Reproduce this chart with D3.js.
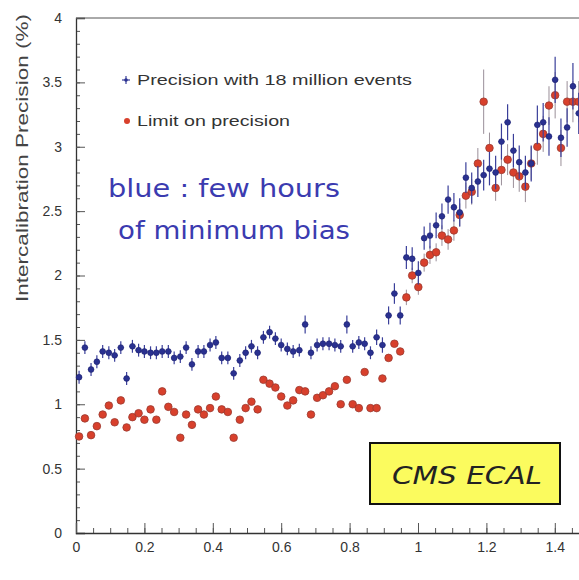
<!DOCTYPE html>
<html><head><meta charset="utf-8">
<script src="https://cdn.jsdelivr.net/npm/d3@7"></script>
<style>body{margin:0;background:#fff;}svg{display:block;}</style>
</head><body>
<script>
const eta = [0.009,0.026,0.044,0.061,0.078,0.096,0.113,0.131,0.148,0.165,0.183,0.200,0.218,0.235,0.252,0.270,0.287,0.305,0.322,0.339,
0.357,0.374,0.392,0.409,0.426,0.444,0.461,0.479,0.496,0.513,0.531,0.548,0.566,0.583,0.600,0.618,0.635,0.653,0.670,0.687,
0.705,0.722,0.740,0.757,0.774,0.792,0.809,0.827,0.844,0.861,0.879,0.896,0.914,0.931,0.948,0.966,0.983,1.001,1.018,1.035,
1.053,1.070,1.088,1.105,1.122,1.140,1.157,1.175,1.192,1.209,1.227,1.244,1.262,1.279,1.296,1.314,1.331,1.349,1.366,1.383,
1.401,1.418,1.436,1.453,1.470];
const blueVals = [1.21,1.44,1.27,1.33,1.41,1.40,1.38,1.44,1.20,1.45,1.42,1.41,1.40,1.40,1.41,1.41,1.36,1.37,1.44,1.31,
1.41,1.41,1.46,1.48,1.36,1.36,1.24,1.34,1.40,1.45,1.40,1.52,1.56,1.51,1.46,1.43,1.41,1.42,1.62,1.40,
1.46,1.47,1.47,1.46,1.45,1.62,1.45,1.48,1.47,1.40,1.52,1.46,1.69,1.86,1.69,2.14,2.13,2.02,2.29,2.31,
2.39,2.46,2.59,2.53,2.49,2.76,2.68,2.73,2.78,2.83,2.80,3.04,3.19,2.97,2.88,2.80,2.87,3.17,3.19,3.08,
3.52,3.07,3.15,3.47,3.26];
const blueErr = [0.05,0.05,0.05,0.05,0.05,0.05,0.05,0.05,0.05,0.05,0.05,0.05,0.05,0.05,0.05,0.05,0.05,0.05,0.05,0.05,
0.05,0.05,0.05,0.05,0.05,0.05,0.05,0.05,0.05,0.05,0.05,0.05,0.05,0.05,0.05,0.05,0.05,0.05,0.07,0.05,
0.05,0.05,0.05,0.05,0.05,0.07,0.05,0.05,0.05,0.05,0.06,0.06,0.07,0.08,0.07,0.09,0.09,0.09,0.09,0.10,
0.10,0.10,0.11,0.11,0.11,0.12,0.12,0.12,0.12,0.13,0.13,0.14,0.14,0.13,0.13,0.13,0.14,0.15,0.15,0.15,
0.18,0.15,0.15,0.18,0.16];
const redVals = [0.75,0.89,0.76,0.83,0.92,0.99,0.86,1.03,0.82,0.90,0.93,0.88,0.96,0.88,1.10,0.98,0.94,0.74,0.92,0.84,
0.96,0.92,0.97,1.06,0.96,0.94,0.74,0.88,0.97,1.02,0.96,1.19,1.16,1.13,1.06,0.99,1.03,1.11,1.10,0.92,
1.05,1.07,1.10,1.14,1.00,1.19,1.00,0.97,1.25,0.97,0.97,1.20,1.36,1.47,1.41,1.83,2.00,1.91,2.10,2.16,
2.18,2.31,2.28,2.35,2.47,2.62,2.65,2.87,3.35,2.99,2.68,2.82,2.90,2.80,2.77,2.69,2.87,3.00,3.10,3.32,
3.40,2.99,3.35,3.35,3.35];
const redErr = [0,0,0,0,0,0,0,0,0,0,0,0,0,0,0,0,0,0,0,0,
0,0,0,0,0,0,0,0,0,0,0,0,0,0,0,0,0,0,0,0,
0,0,0,0,0,0,0,0,0,0,0,0,0,0,0,0.06,0.06,0.06,0.07,0.07,
0.07,0.08,0.08,0.08,0.09,0.10,0.10,0.12,0.25,0.12,0.10,0.12,0.12,0.12,0.12,0.12,0.13,0.14,0.14,0.15,
0.18,0.14,0.16,0.16,0.16];
const yTickVals = [0,0.5,1,1.5,2,2.5,3,3.5,4];
const yTickLabels = ["0","0.5","1","1.5","2","2.5","3","3.5","4"];
const xTickVals = [0,0.2,0.4,0.6,0.8,1,1.2,1.4];
const xTickLabels = ["0","0.2","0.4","0.6","0.8","1","1.2","1.4"];
const legendLabels = ["Precision with 18 million events","Limit on precision"];
const noteLines = ["blue : few hours","of minimum bias"];
const boxLabel = "CMS ECAL";
const yTitle = "Intercalibration Precision (%)";

const W = 579, H = 580;
const svg = d3.select("body").append("svg").attr("width", W).attr("height", H);
const x = d3.scaleLinear().domain([0, 1.5]).range([76, 589]);
const y = d3.scaleLinear().domain([0, 4]).range([533, 18]);
const font = "'Liberation Sans', Arial, sans-serif";

// frame top line
svg.append("line").attr("x1", x(0)).attr("x2", W + 20).attr("y1", y(4)).attr("y2", y(4))
  .attr("stroke", "#555").attr("stroke-width", 1);

// y axis minor
const yMinor = d3.range(0, 41).map(d => d / 10);
svg.append("g").attr("transform", `translate(${x(0)},0)`)
  .call(d3.axisLeft(y).tickValues(yMinor).tickSize(-4).tickFormat(""))
  .call(g => g.select(".domain").remove())
  .selectAll("line").attr("stroke", "#555");
const yAx = svg.append("g").attr("transform", `translate(${x(0)},0)`)
  .call(d3.axisLeft(y).tickValues(yTickVals).tickSize(-9).tickPadding(14)
    .tickFormat((d, i) => yTickLabels[i]));
yAx.select(".domain").attr("stroke", "#333").attr("stroke-width", 1.3);
yAx.selectAll("line").attr("stroke", "#555");
yAx.selectAll("text").attr("font-family", font).attr("font-size", 14).attr("fill", "#333");

// x axis minor
const xMinor = d3.range(0, 30).map(d => d * 0.05);
svg.append("g").attr("transform", `translate(0,${y(0)})`)
  .call(d3.axisBottom(x).tickValues(xMinor).tickSize(-5).tickFormat(""))
  .call(g => g.select(".domain").remove())
  .selectAll("line").attr("stroke", "#555");
const xAx = svg.append("g").attr("transform", `translate(0,${y(0)})`)
  .call(d3.axisBottom(x).tickValues(xTickVals).tickSize(-10).tickPadding(6)
    .tickFormat((d, i) => xTickLabels[i]));
xAx.select(".domain").attr("stroke", "#333").attr("stroke-width", 1.3);
xAx.selectAll("line").attr("stroke", "#555");
xAx.selectAll("text").attr("font-family", font).attr("font-size", 14).attr("fill", "#333")
  .attr("dy", "0.9em");

// y title
svg.append("text").attr("transform", `translate(28,14) rotate(-90)`)
  .attr("text-anchor", "end").attr("font-family", font).attr("font-size", 16)
  .attr("fill", "#444").attr("textLength", 288).attr("lengthAdjust", "spacingAndGlyphs").text(yTitle);

// data
const blue = eta.map((e, i) => ({x: e, v: blueVals[i], err: blueErr[i]}));
const red = eta.map((e, i) => ({x: e, v: redVals[i], err: redErr[i]}));

const rg = svg.append("g");
rg.selectAll("line.re").data(red.filter(d => d.err > 0)).join("line")
  .attr("x1", d => x(d.x)).attr("x2", d => x(d.x))
  .attr("y1", d => y(d.v - d.err)).attr("y2", d => y(d.v + d.err))
  .attr("stroke", "#9a8f99").attr("stroke-width", 1);
rg.selectAll("circle").data(red).join("circle")
  .attr("cx", d => x(d.x)).attr("cy", d => y(d.v)).attr("r", 3.8)
  .attr("fill", "#d8402c").attr("stroke", "#9b3a30").attr("stroke-width", 0.8);

const bg = svg.append("g");
bg.selectAll("line.be").data(blue).join("line")
  .attr("x1", d => x(d.x)).attr("x2", d => x(d.x))
  .attr("y1", d => y(d.v - d.err)).attr("y2", d => y(d.v + d.err))
  .attr("stroke", "#3a3f9a").attr("stroke-width", 1.2);
bg.selectAll("line.bh").data(blue).join("line")
  .attr("x1", d => x(d.x - 0.0087)).attr("x2", d => x(d.x + 0.0087))
  .attr("y1", d => y(d.v)).attr("y2", d => y(d.v))
  .attr("stroke", "#3a3f9a").attr("stroke-width", 1.2);
bg.selectAll("circle").data(blue).join("circle")
  .attr("cx", d => x(d.x)).attr("cy", d => y(d.v)).attr("r", 2.9)
  .attr("fill", "#2a3190").attr("stroke", "#1d2270").attr("stroke-width", 0.6);

// legend
const lg = svg.append("g");
lg.append("line").attr("x1", 122).attr("x2", 130).attr("y1", 80).attr("y2", 80).attr("stroke", "#3a3f9a").attr("stroke-width", 1.2);
lg.append("line").attr("x1", 126).attr("x2", 126).attr("y1", 76).attr("y2", 84).attr("stroke", "#3a3f9a").attr("stroke-width", 1.2);
lg.append("circle").attr("cx", 126).attr("cy", 80).attr("r", 1.8).attr("fill", "#2a3190");
lg.append("circle").attr("cx", 127).attr("cy", 121).attr("r", 3).attr("fill", "#d8402c");
lg.append("text").attr("x", 137).attr("y", 85).attr("font-family", font).attr("font-size", 14)
  .attr("fill", "#333").attr("textLength", 275).attr("lengthAdjust", "spacingAndGlyphs").text(legendLabels[0]);
lg.append("text").attr("x", 137).attr("y", 126).attr("font-family", font).attr("font-size", 14)
  .attr("fill", "#333").attr("textLength", 153).attr("lengthAdjust", "spacingAndGlyphs").text(legendLabels[1]);

// note
const nf = "'DejaVu Sans', sans-serif";
svg.append("text").attr("x", 108).attr("y", 197).attr("font-family", nf).attr("font-size", 25)
  .attr("fill", "#3b3bb0").attr("textLength", 232).attr("lengthAdjust", "spacingAndGlyphs").text(noteLines[0]);
svg.append("text").attr("x", 118).attr("y", 239).attr("font-family", nf).attr("font-size", 25)
  .attr("fill", "#3b3bb0").attr("textLength", 232).attr("lengthAdjust", "spacingAndGlyphs").text(noteLines[1]);

// CMS ECAL box
svg.append("rect").attr("x", 370).attr("y", 443).attr("width", 190).attr("height", 61)
  .attr("fill", "#fbfb5e").attr("stroke", "#111").attr("stroke-width", 2);
svg.append("text").attr("x", 392).attr("y", 484).attr("font-family", nf).attr("font-size", 24)
  .attr("font-style", "italic").attr("fill", "#222")
  .attr("textLength", 150).attr("lengthAdjust", "spacingAndGlyphs").text(boxLabel);
</script>
</body></html>
